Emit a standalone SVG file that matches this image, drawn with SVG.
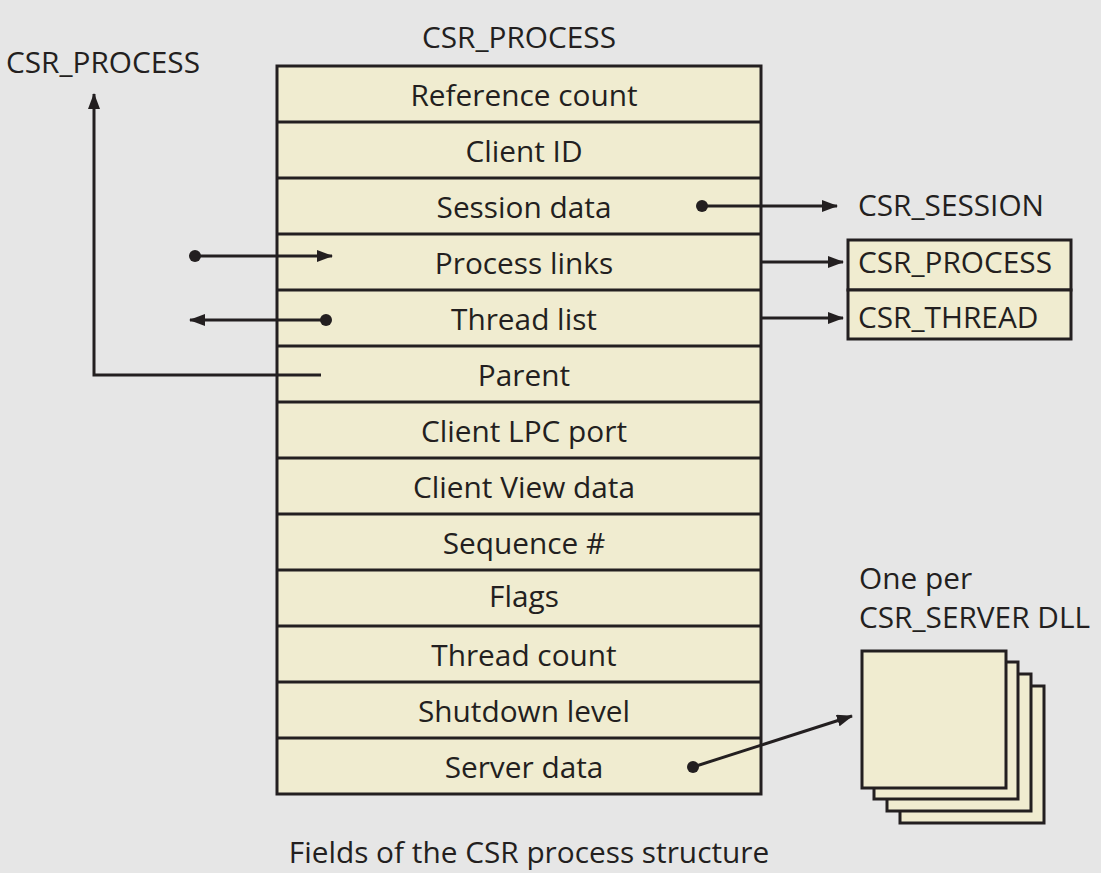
<svg xmlns="http://www.w3.org/2000/svg" width="1101" height="873" viewBox="0 0 1101 873">
<defs>
<style>
.t{font-family:"Open Sans","Noto Sans","Liberation Sans",sans-serif;font-size:29.8px;fill:#231f20}
.m{text-anchor:middle}
.box{fill:#f0ecd0;stroke:#231f20;stroke-width:3}
.ln{fill:none;stroke:#231f20;stroke-width:3}
</style>
<marker id="ah" viewBox="0 0 16 12" refX="15" refY="6" markerWidth="16" markerHeight="12" markerUnits="userSpaceOnUse" orient="auto">
<path d="M0,0 L16,6 L0,12 Z" fill="#231f20"/>
</marker>
</defs>
<rect width="1101" height="873" fill="#e6e6e6"/>
<text class="t m" x="519" y="48">CSR_PROCESS</text>
<g id="csr_process">
<rect class="box" x="277" y="66" width="484" height="728"/>
<g class="ln">
<line x1="277" y1="122" x2="761" y2="122"/>
<line x1="277" y1="178" x2="761" y2="178"/>
<line x1="277" y1="234" x2="761" y2="234"/>
<line x1="277" y1="290" x2="761" y2="290"/>
<line x1="277" y1="346" x2="761" y2="346"/>
<line x1="277" y1="402" x2="761" y2="402"/>
<line x1="277" y1="458" x2="761" y2="458"/>
<line x1="277" y1="514" x2="761" y2="514"/>
<line x1="277" y1="570" x2="761" y2="570"/>
<line x1="277" y1="626" x2="761" y2="626"/>
<line x1="277" y1="682" x2="761" y2="682"/>
<line x1="277" y1="738" x2="761" y2="738"/>
</g>
<text class="t m" x="524" y="106">Reference count</text>
<text class="t m" x="524" y="162">Client ID</text>
<text class="t m" x="524" y="218">Session data</text>
<text class="t m" x="524" y="274">Process links</text>
<text class="t m" x="524" y="330">Thread list</text>
<text class="t m" x="524" y="386">Parent</text>
<text class="t m" x="524" y="442">Client LPC port</text>
<text class="t m" x="524" y="498">Client View data</text>
<text class="t m" x="524" y="554">Sequence #</text>
<text class="t m" x="524" y="607">Flags</text>
<text class="t m" x="524" y="666">Thread count</text>
<text class="t m" x="524" y="722">Shutdown level</text>
<text class="t m" x="524" y="778">Server data</text>
</g>
<g id="csr_session"><text class="t" x="858" y="216">CSR_SESSION</text></g>
<g id="linked_boxes">
<rect class="box" x="848" y="240" width="223" height="50"/>
<rect class="box" x="848" y="290" width="223" height="49"/>
<text class="t" x="858" y="273">CSR_PROCESS</text>
<text class="t" x="858" y="328">CSR_THREAD</text>
</g>
<g id="parent_label"><text class="t" x="6" y="73">CSR_PROCESS</text></g>
<g id="server_dlls">
<rect class="box" x="900" y="686" width="144" height="137"/>
<rect class="box" x="887" y="674" width="144" height="137"/>
<rect class="box" x="874" y="662" width="144" height="137"/>
<rect class="box" x="862" y="651" width="144" height="137"/>
<text class="t" x="859" y="589">One per</text>
<text class="t" x="859" y="628">CSR_SERVER DLL</text>
</g>
<g id="connectors" class="ln">
<circle cx="702" cy="206" r="6" fill="#231f20" stroke="none"/>
<line x1="702" y1="206" x2="837" y2="206" marker-end="url(#ah)"/>
<line x1="761" y1="262" x2="843" y2="262" marker-end="url(#ah)"/>
<line x1="761" y1="318" x2="843" y2="318" marker-end="url(#ah)"/>
<circle cx="195" cy="256" r="6" fill="#231f20" stroke="none"/>
<line x1="195" y1="256" x2="332" y2="256" marker-end="url(#ah)"/>
<circle cx="326" cy="320" r="6" fill="#231f20" stroke="none"/>
<line x1="326" y1="320" x2="190" y2="320" marker-end="url(#ah)"/>
<polyline points="321,375 94,375 94,94" marker-end="url(#ah)"/>
<circle cx="693" cy="767" r="6" fill="#231f20" stroke="none"/>
<line x1="693" y1="767" x2="852" y2="716" marker-end="url(#ah)"/>
</g>
<text class="t m" x="529" y="863">Fields of the CSR process structure</text>
</svg>
